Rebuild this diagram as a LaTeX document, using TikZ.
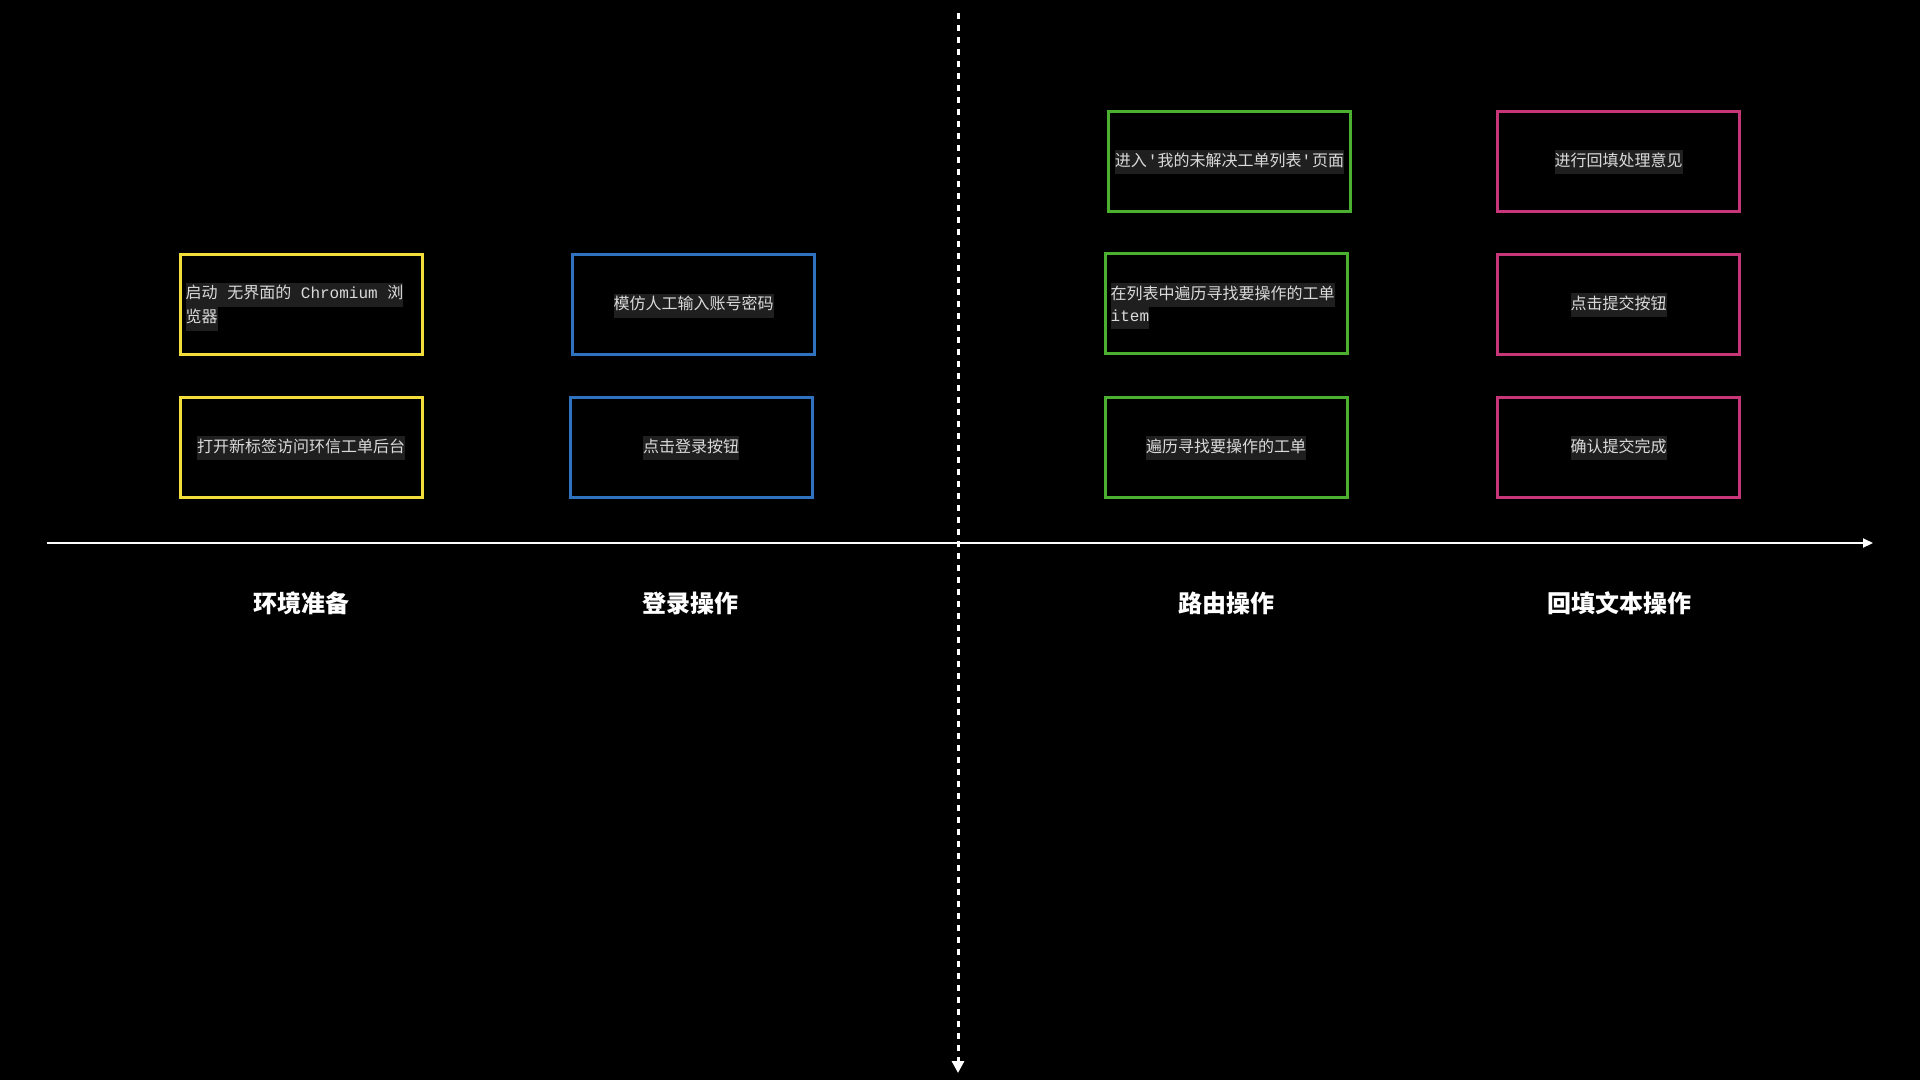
\documentclass[tikz,border=0pt]{standalone}
\usepackage{fontspec}
\setmainfont{Noto Sans CJK SC}
\setmonofont{Liberation Mono}
\usetikzlibrary{arrows.meta}
\definecolor{bgc}{HTML}{000000}
\definecolor{ylw}{HTML}{F2DE3A}
\definecolor{blu}{HTML}{2E72C0}
\definecolor{grn}{HTML}{4BB02F}
\definecolor{pnk}{HTML}{C8367A}
\definecolor{hlbg}{HTML}{1F1F1F}
\definecolor{txt}{HTML}{DADADA}
\newcommand{\msp}{\hspace{9.6pt}}
\begin{document}
\begin{tikzpicture}[x=1pt,y=-1pt,
  bx/.style={draw=#1, line width=3pt, minimum width=242pt, minimum height=100pt, inner sep=0pt},
  hl/.style={fill=hlbg, text=txt, inner xsep=0pt, inner ysep=4pt, text height=12pt, text depth=4pt,
    font=\fontsize{16}{16}\selectfont, yshift=-1pt},
  cat/.style={text=white, font=\fontsize{24}{24}\selectfont\bfseries},
  axis/.style={draw=white, line width=2pt}
]
\fill[bgc] (0,0) rectangle (1920,1080);
\useasboundingbox (0,0) rectangle (1920,1080);

% boxes
\node[bx=ylw] (y1) at (301,304.5) {};
\node[bx=ylw] (y2) at (301,447) {};
\node[bx=blu] (b1) at (693.5,304.5) {};
\node[bx=blu] (b2) at (691,447) {};
\node[bx=grn] (g1) at (1229.5,161) {};
\node[bx=grn] (g2) at (1226,303.5) {};
\node[bx=grn] (g3) at (1226,447) {};
\node[bx=pnk] (p1) at (1618.5,161) {};
\node[bx=pnk] (p2) at (1618.5,304) {};
\node[bx=pnk] (p3) at (1618.5,447) {};

% box texts
\node[hl, anchor=west] (y1a) at ([xshift=7pt,yshift=11pt]y1.west) {启动\msp 无界面的\msp{\ttfamily Chromium}\msp 浏};
\node[hl, anchor=west] (y1b) at ([xshift=7pt,yshift=-13pt]y1.west) {览器};
\node[hl] (y2t) at (y2) {打开新标签访问环信工单后台};
\node[hl] (b1t) at (b1) {模仿人工输入账号密码};
\node[hl] (b2t) at (b2) {点击登录按钮};
\node[hl] (g1t) at (g1) {进入{\ttfamily\kern1pt'}我的未解决工单列表{\ttfamily'\kern1pt}页面};
\node[hl, anchor=west] (g2a) at ([xshift=7pt,yshift=9.5pt]g2.west) {在列表中遍历寻找要操作的工单};
\node[hl, anchor=west] (g2b) at ([xshift=7pt,yshift=-12.5pt]g2.west) {\ttfamily item};
\node[hl] (g3t) at (g3) {遍历寻找要操作的工单};
\node[hl] (p1t) at (p1) {进行回填处理意见};
\node[hl] (p2t) at (p2) {点击提交按钮};
\node[hl] (p3t) at (p3) {确认提交完成};

% category labels
\node[cat] (c1) at (301,603) {环境准备};
\node[cat] (c2) at (690.5,603) {登录操作};
\node[cat] (c3) at (1226,603) {路由操作};
\node[cat] (c4) at (1619,603) {回填文本操作};

% axes
\coordinate (hs) at (47,543);
\coordinate (he) at (1873,543);
\coordinate (vs) at (958,13);
\coordinate (ve) at (958,1073);
\draw[axis, -{Triangle[length=10pt,width=9pt]}] (hs) -- (he);
\draw[draw=white, line width=3pt, dash pattern=on 6pt off 6pt, -{Triangle[length=12pt,width=12pt]}] (vs) -- (ve);
\end{tikzpicture}
\end{document}
